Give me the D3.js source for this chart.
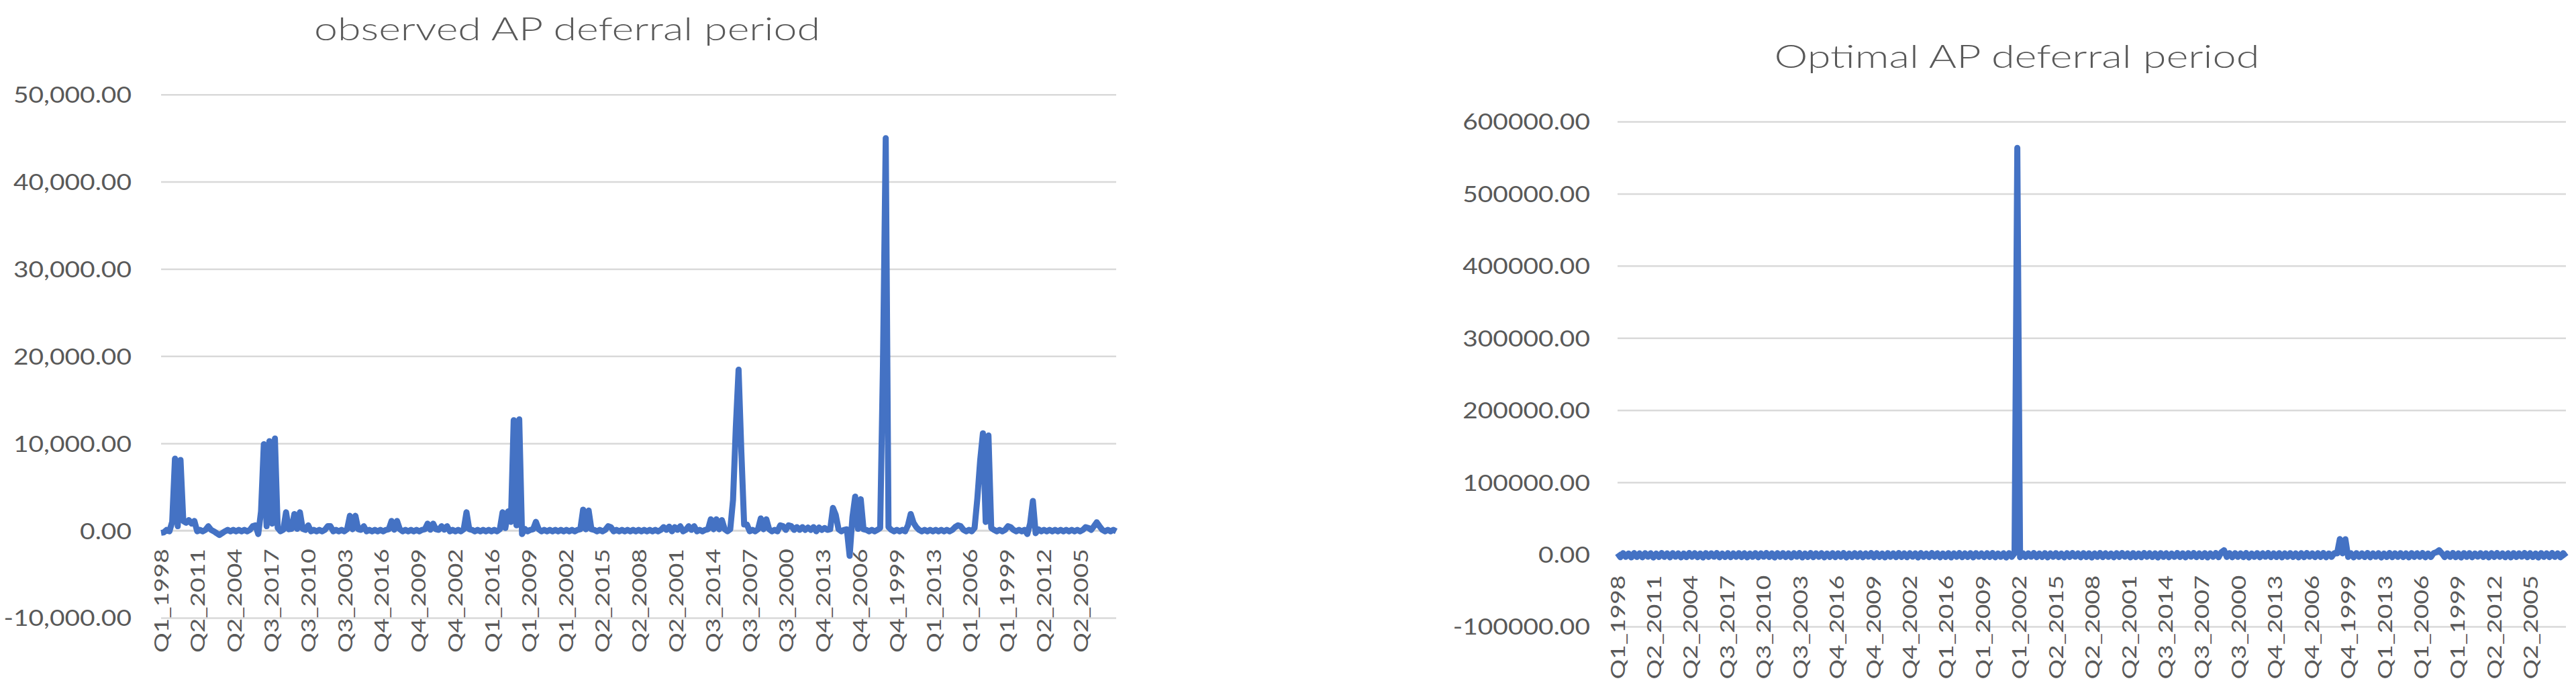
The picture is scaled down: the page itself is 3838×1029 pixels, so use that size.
<!DOCTYPE html>
<html>
<head>
<meta charset="utf-8">
<script src="https://cdn.jsdelivr.net/npm/d3@7"></script>
<style>
  body { margin: 0; background: #ffffff; }
  svg { display: block; }
</style>
</head>
<body>
<script>
// ---------------- DATA ----------------
// Category axis: 17 firms x 81 quarters; every 53rd category is labelled.
const categoryCount = 1377;
const tickEvery = 53;
const categoryTickLabels = [
  "Q1_1998","Q2_2011","Q2_2004","Q3_2017","Q3_2010","Q3_2003","Q4_2016","Q4_2009","Q4_2002",
  "Q1_2016","Q1_2009","Q1_2002","Q2_2015","Q2_2008","Q2_2001","Q3_2014","Q3_2007","Q3_2000",
  "Q4_2013","Q4_2006","Q4_1999","Q1_2013","Q1_2006","Q1_1999","Q2_2012","Q2_2005"
];
// values at every 4th category
const sampleEvery = 4;

const observedTitle = "observed AP deferral period";
const observedYTicks = [-10000, 0, 10000, 20000, 30000, 40000, 50000];
const observedYLabels = ["-10,000.00","0.00","10,000.00","20,000.00","30,000.00","40,000.00","50,000.00"];
const observedValues = [
  -250,-200,80,-80,1000,8250,500,8100,1100,900,1200,800,1100,-80,80,
  -80,80,500,80,-80,-300,-500,-300,-80,80,-80,80,-80,80,-80,
  80,-80,80,500,600,-400,2200,9900,500,10250,800,10550,300,-80,100,
  2100,150,200,1900,200,2100,200,80,600,-80,80,-80,80,-80,80,
  500,500,-80,80,-80,80,-80,150,1700,150,1700,150,80,500,-80,
  80,-80,80,-80,80,-80,80,150,1100,100,1100,150,-80,80,-80,
  80,-80,80,-80,80,150,800,100,800,150,80,500,100,500,-80,
  80,-80,80,-80,150,2100,150,80,-80,80,-80,80,-80,80,-80,
  80,-80,150,2100,300,2200,1000,12650,600,12750,-400,200,-80,80,150,
  1000,150,-80,80,-80,80,-80,80,-80,80,-80,80,-80,80,-80,
  80,150,2400,150,2300,150,80,-80,80,-80,80,500,400,-80,80,
  -80,80,-80,80,-80,80,-80,80,-80,80,-80,80,-80,80,-80,
  80,400,80,450,-80,400,80,500,-80,80,500,80,500,-80,80,
  -80,80,150,1300,150,1300,150,1200,150,-80,150,3500,11800,18450,9000,
  700,700,-80,80,-80,150,1400,150,1300,150,-80,80,-80,600,500,
  80,600,500,80,400,80,400,80,350,80,400,-80,350,80,300,
  80,150,2600,1800,150,-80,80,150,-2900,1500,3900,200,3600,150,80,
  -80,80,-80,80,300,19000,45000,400,80,-80,80,-80,80,-80,600,
  1900,900,400,80,-80,80,-80,80,-80,80,-80,80,-80,80,-80,
  80,400,600,500,80,-80,80,-80,300,3700,8000,11150,1000,10900,300,
  80,-80,80,-80,80,500,400,80,-80,80,-80,80,-400,800,3400,
  -300,150,-80,80,-80,80,-80,80,-80,80,-80,80,-80,80,-80,
  80,-80,80,400,300,80,500,950,500,80,-80,80,-80,80,-80
];

const optimalTitle = "Optimal AP deferral period";
const optimalYTicks = [-100000, 0, 100000, 200000, 300000, 400000, 500000, 600000];
const optimalYLabels = ["-100000.00","0.00","100000.00","200000.00","300000.00","400000.00","500000.00","600000.00"];
const optimalValues = [
  1500,-3900,1800,-3400,1300,-4200,1900,-3600,1400,-4000,1700,-3300,1600,-4300,1200,
  -3700,1900,-3500,1400,-4100,1800,-3300,1500,-4200,1200,-3800,1900,-3400,1700,-3900,
  1300,-4300,1800,-3600,1500,-3300,1900,-4100,1200,-3700,1700,-3900,1400,-3400,1800,
  -3800,1600,-4200,1300,-3500,1800,-4000,1500,-3300,1900,-3700,1400,-4300,1700,-3400,
  1800,-3800,1400,-4100,1700,-3300,1900,-4200,1200,-3600,1900,-3900,1500,-3400,1700,
  -4100,1300,-3700,1800,-3900,1500,-3400,1900,-4300,1300,-3700,1800,-3500,1600,-4000,
  1400,-3300,1900,-4100,1700,-3600,1200,-4200,1800,-3400,1500,-3900,1900,-3700,1400,
  -3900,1700,-3300,1500,-4300,1900,-3500,1300,-3800,1900,-3400,1600,-4100,1300,-3700,
  1800,-4200,1500,-3400,1900,-3900,1400,-3600,1700,-4100,1800,-3300,1400,-3800,1700,
  -3600,1900,-4000,1300,-3500,1600,-4300,1800,-3400,1400,563500,-4000,1800,-3700,1500,
  -3300,1900,-3900,1300,-3600,1700,-4200,1500,-3400,1800,-3800,1200,-4100,1700,-3600,
  1900,-3300,1400,-4000,1800,-3700,1500,-4300,1400,-3500,1900,-3800,1600,-3500,1300,
  -4000,1700,-3600,1900,-3300,1500,-4200,1800,-3800,1300,-3900,1900,-3400,1700,-3700,
  1400,-4300,1800,-3500,1600,-4000,1200,-3500,1900,-3700,1500,-4100,1700,-3300,1900,
  -3800,1400,-3700,1800,-4200,1500,-3400,1900,-3900,3000,5800,-3600,1700,-4000,1800,
  -3500,1500,-3800,1900,-4300,1300,-3500,1700,-4000,1600,-3300,1900,-3800,1400,-3700,
  1800,-4100,1500,-3400,1800,-3700,1400,-4200,1700,-3900,1900,-3300,1500,-3800,1700,
  -3600,1900,-4000,1300,-3500,1800,1500,21300,1500,21000,-3500,1600,-4200,1800,-3400,
  1400,-3700,1900,-4000,1500,-3300,1700,-4300,1300,-3700,1900,-3900,1500,-3500,1800,
  -3800,1400,-4200,1800,-3600,1600,-3400,1900,-4000,1300,-3700,1700,3000,5800,1500,
  -3800,1500,-3500,1900,-3900,1400,-4300,1800,-3500,1700,-4000,1300,-3300,1800,-3700,
  1500,-4100,1700,-3600,1900,-3400,1400,-3900,1600,-4200,1800,-3700,1400,-3300,1900,
  -3900,1700,-3700,1300,-4300,1800,-3500,1500,-3800,1900,-3500,1400,-4000,1700,-3400
];

// ---------------- DRAWING ----------------
const W = 3838, H = 1029;
const TEXT = "#595959", GRID = "#d9d9d9", LINE = "#4472c4";
const FONT = "Lato, 'Open Sans', 'Liberation Sans', sans-serif";

const svg = d3.select("body").append("svg")
  .attr("width", W).attr("height", H)
  .style("background", "#fff");

function drawChart(opt) {
  const g = svg.append("g");
  const yDom = d3.extent(opt.yTicks);
  const x = d3.scaleLinear().domain([0, categoryCount - 1]).range([opt.left, opt.right]);
  const y = d3.scaleLinear().domain(yDom).range([opt.bottom, opt.top]);

  // title
  g.append("text")
    .attr("x", opt.titleX).attr("y", opt.titleY)
    .attr("text-anchor", "middle")
    .attr("fill", TEXT)
    .attr("font-family", FONT)
    .attr("font-weight", 300)
    .attr("font-size", opt.titleSize)
    .attr("textLength", opt.titleWidth)
    .attr("lengthAdjust", "spacingAndGlyphs")
    .text(opt.title);

  // y axis with gridlines
  const yAxis = d3.axisLeft(y)
    .tickValues(opt.yTicks)
    .tickFormat((d, i) => opt.yLabels[i])
    .tickSize(-(opt.right - opt.left))
    .tickPadding(0);
  const ya = g.append("g")
    .attr("transform", `translate(${opt.left},0)`)
    .call(yAxis)
    .attr("font-family", FONT)
    .attr("font-size", 33);
  ya.select(".domain").remove();
  ya.selectAll(".tick line").attr("stroke", GRID).attr("stroke-width", 2.5);
  ya.selectAll(".tick text")
    .attr("x", null)
    .attr("dy", "0.36em")
    .attr("fill", TEXT)
    .attr("text-anchor", "end")
    .attr("transform", `translate(${-opt.yLabelGap},0) scale(1.18,1)`);

  // horizontal axis line at zero
  g.append("line")
    .attr("x1", opt.left).attr("x2", opt.right)
    .attr("y1", y(0)).attr("y2", y(0))
    .attr("stroke", GRID).attr("stroke-width", 2.5);

  // category labels
  const tickIdx = categoryTickLabels.map((_, i) => i * tickEvery);
  const xAxis = d3.axisBottom(x)
    .tickValues(tickIdx)
    .tickFormat((d, i) => categoryTickLabels[i])
    .tickSize(0).tickPadding(0);
  const xa = g.append("g")
    .attr("transform", `translate(0,${y(0) + opt.xLabelGap})`)
    .call(xAxis)
    .attr("font-family", FONT)
    .attr("font-size", 28);
  xa.select(".domain").remove();
  xa.selectAll(".tick text")
    .attr("y", null)
    .attr("dy", "0.36em")
    .attr("fill", TEXT)
    .attr("text-anchor", "end")
    .attr("transform", "rotate(-90) scale(1.33,1)");

  // series line
  const line = d3.line()
    .x((d, i) => x(i * sampleEvery))
    .y(d => y(d));
  g.append("path")
    .datum(opt.values)
    .attr("d", line)
    .attr("fill", "none")
    .attr("stroke", LINE)
    .attr("stroke-width", 9)
    .attr("stroke-linejoin", "round")
    .attr("stroke-linecap", "butt");
}

drawChart({
  title: observedTitle, values: observedValues,
  yTicks: observedYTicks, yLabels: observedYLabels,
  left: 240, right: 1663, top: 140.7, bottom: 920,
  titleX: 845, titleY: 60, titleSize: 48, titleWidth: 754,
  yLabelGap: 44, xLabelGap: 27
});

drawChart({
  title: optimalTitle, values: optimalValues,
  yTicks: optimalYTicks, yLabels: optimalYLabels,
  left: 2410, right: 3823, top: 181, bottom: 933,
  titleX: 3005, titleY: 101, titleSize: 48, titleWidth: 723,
  yLabelGap: 41, xLabelGap: 31
});
</script>
</body>
</html>
